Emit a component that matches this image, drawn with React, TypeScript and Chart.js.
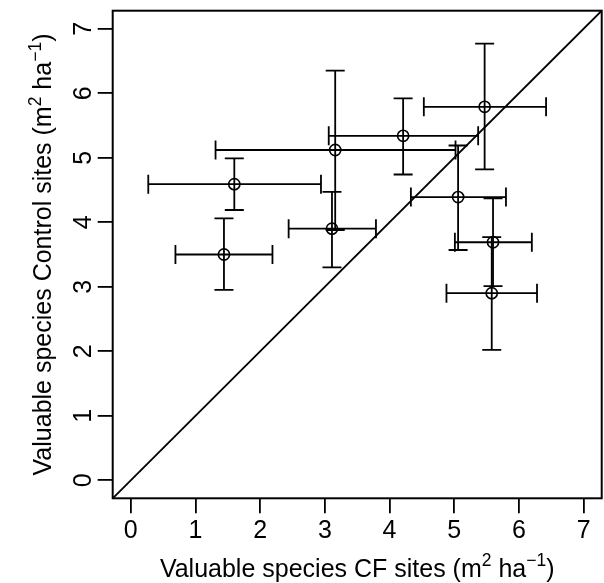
import React, { useEffect, useRef } from "react";
import { Chart, registerables } from "chart.js";

Chart.register(...registerables);

// ---- data ----
const SITES = ["S1", "S2", "S3", "S4", "S5", "S6", "S7", "S8", "S9"];
const CF_MEAN = [1.44, 1.60, 3.16, 3.11, 4.21, 5.47, 5.06, 5.60, 5.58];
const CF_LOW = [0.69, 0.27, 1.31, 2.44, 3.06, 4.53, 4.33, 5.01, 4.88];
const CF_HIGH = [2.19, 2.94, 5.02, 3.79, 5.37, 6.42, 5.80, 6.20, 6.28];
const CTRL_MEAN = [3.50, 4.59, 5.12, 3.90, 5.34, 5.79, 4.39, 3.69, 2.90];
const CTRL_LOW = [2.95, 4.19, 3.88, 3.30, 4.74, 4.82, 3.57, 3.01, 2.02];
const CTRL_HIGH = [4.06, 4.99, 6.35, 4.47, 5.92, 6.77, 5.19, 4.37, 3.77];
const AXIS_RANGE = [-0.28, 7.28];
const TICKS = [0, 1, 2, 3, 4, 5, 6, 7];
const X_TITLE = [
  { text: "Valuable species CF sites (m", sup: false },
  { text: "2", sup: true },
  { text: " ha", sup: false },
  { text: "\u22121", sup: true },
  { text: ")", sup: false },
];
const Y_TITLE = [
  { text: "Valuable species Control sites (m", sup: false },
  { text: "2", sup: true },
  { text: " ha", sup: false },
  { text: "\u22121", sup: true },
  { text: ")", sup: false },
];

const FONT = '"Liberation Sans", Arial, Helvetica, sans-serif';
const FS = 25;

type Part = { text: string; sup: boolean };

function drawRich(ctx: CanvasRenderingContext2D, parts: Part[]) {
  const supSize = FS * 0.7;
  const widths = parts.map((p) => {
    ctx.font = `${p.sup ? supSize : FS}px ${FONT}`;
    return ctx.measureText(p.text).width;
  });
  const total = widths.reduce((a, b) => a + b, 0);
  let x = -total / 2;
  ctx.textBaseline = "alphabetic";
  ctx.textAlign = "left";
  parts.forEach((p, i) => {
    ctx.font = `${p.sup ? supSize : FS}px ${FONT}`;
    ctx.fillText(p.text, x, p.sup ? -10.5 : 0);
    x += widths[i];
  });
}

const zeroPad = (s: any) => {
  s.paddingTop = 0;
  s.paddingBottom = 0;
  s.paddingLeft = 0;
  s.paddingRight = 0;
};

const decorPlugin = {
  id: "decor",
  beforeDatasetsDraw(chart: any) {
    const ctx = chart.ctx as CanvasRenderingContext2D;
    const xs = chart.scales.x;
    const ys = chart.scales.y;
    const cap = 9.5;
    ctx.save();
    ctx.strokeStyle = "#000";
    ctx.lineWidth = 1.8;
    ctx.lineCap = "butt";
    for (let i = 0; i < SITES.length; i++) {
      const px = xs.getPixelForValue(CF_MEAN[i]);
      const py = ys.getPixelForValue(CTRL_MEAN[i]);
      const xl = xs.getPixelForValue(CF_LOW[i]);
      const xh = xs.getPixelForValue(CF_HIGH[i]);
      const yl = ys.getPixelForValue(CTRL_LOW[i]);
      const yh = ys.getPixelForValue(CTRL_HIGH[i]);
      ctx.beginPath();
      ctx.moveTo(xl, py);
      ctx.lineTo(xh, py);
      ctx.moveTo(xl, py - cap);
      ctx.lineTo(xl, py + cap);
      ctx.moveTo(xh, py - cap);
      ctx.lineTo(xh, py + cap);
      ctx.moveTo(px, yl);
      ctx.lineTo(px, yh);
      ctx.moveTo(px - cap, yl);
      ctx.lineTo(px + cap, yl);
      ctx.moveTo(px - cap, yh);
      ctx.lineTo(px + cap, yh);
      ctx.stroke();
    }
    ctx.restore();
  },
  afterDraw(chart: any) {
    const ctx = chart.ctx as CanvasRenderingContext2D;
    const a = chart.chartArea;
    ctx.save();
    ctx.strokeStyle = "#000";
    ctx.lineWidth = 2;
    ctx.strokeRect(a.left, a.top, a.right - a.left, a.bottom - a.top);
    ctx.fillStyle = "#000";
    ctx.save();
    ctx.translate((a.left + a.right) / 2, 576.5);
    drawRich(ctx, X_TITLE);
    ctx.restore();
    ctx.save();
    ctx.translate(51, (a.top + a.bottom) / 2);
    ctx.rotate(-Math.PI / 2);
    drawRich(ctx, Y_TITLE);
    ctx.restore();
    ctx.restore();
  },
};

export default function App() {
  const ref = useRef<HTMLCanvasElement | null>(null);
  useEffect(() => {
    if (!ref.current) return;
    const tickFont = { family: FONT, size: FS };
    const chart = new Chart(ref.current, {
      type: "scatter",
      data: {
        datasets: [
          {
            type: "line",
            data: [
              { x: AXIS_RANGE[0], y: AXIS_RANGE[0] },
              { x: AXIS_RANGE[1], y: AXIS_RANGE[1] },
            ],
            borderColor: "#000",
            borderWidth: 1.8,
            pointRadius: 0,
            fill: false,
          } as any,
          {
            type: "scatter",
            data: CF_MEAN.map((v, i) => ({ x: v, y: CTRL_MEAN[i] })),
            pointRadius: 5.6,
            pointBorderWidth: 1.6,
            pointBorderColor: "#000",
            pointBackgroundColor: "rgba(0,0,0,0)",
            pointHoverRadius: 5.6,
          } as any,
        ],
      },
      options: {
        animation: false,
        responsive: false,
        events: [],
        layout: { autoPadding: false, padding: { top: 10.7, right: 2.3, left: 0, bottom: 0 } },
        plugins: {
          legend: { display: false },
          tooltip: { enabled: false },
          title: { display: false },
        },
        scales: {
          x: {
            type: "linear",
            min: AXIS_RANGE[0],
            max: AXIS_RANGE[1],
            afterFit: (s: any) => {
              s.height = 84.7;
              zeroPad(s);
            },
            afterBuildTicks: (s: any) => {
              s.ticks = TICKS.map((v) => ({ value: v }));
            },
            grid: {
              drawOnChartArea: false,
              drawTicks: true,
              tickLength: 15,
              color: "#000",
              lineWidth: 1.8,
            },
            border: { display: false },
            ticks: {
              font: tickFont,
              color: "#000",
              padding: 3,
              minRotation: 0,
              maxRotation: 0,
              autoSkip: false,
            },
          },
          y: {
            type: "linear",
            min: AXIS_RANGE[0],
            max: AXIS_RANGE[1],
            afterFit: (s: any) => {
              s.width = 112.7;
              zeroPad(s);
            },
            afterBuildTicks: (s: any) => {
              s.ticks = TICKS.map((v) => ({ value: v }));
            },
            grid: {
              drawOnChartArea: false,
              drawTicks: true,
              tickLength: 15,
              color: "#000",
              lineWidth: 1.8,
            },
            border: { display: false },
            ticks: {
              font: tickFont,
              color: "#000",
              padding: 6.5,
              minRotation: 90,
              maxRotation: 90,
              crossAlign: "center",
              autoSkip: false,
            },
          },
        },
      } as any,
      plugins: [decorPlugin],
    });
    return () => chart.destroy();
  }, []);
  return (
    <div style={{ position: "absolute", left: 0, top: 0, width: 604, height: 583, background: "#fff" }}>
      <canvas ref={ref} width={604} height={583} style={{ display: "block", width: 604, height: 583 }} />
    </div>
  );
}
